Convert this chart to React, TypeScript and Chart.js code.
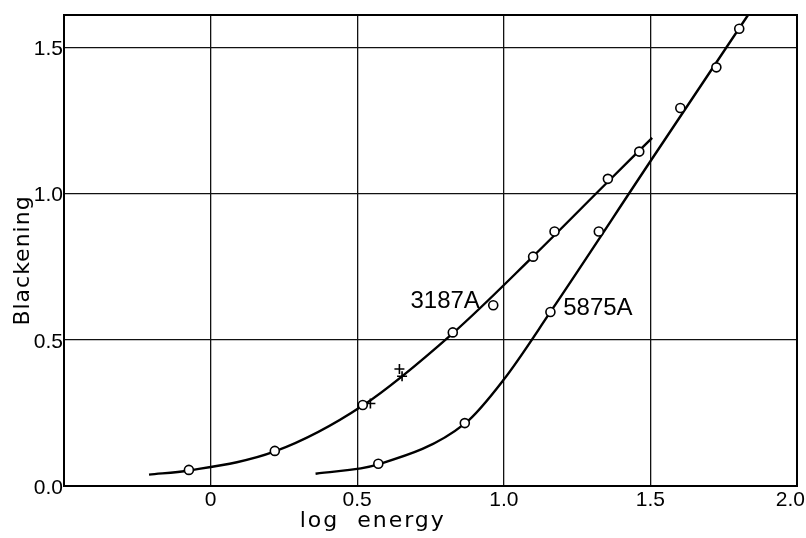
import { useEffect, useRef } from 'react';
import { Chart, registerables } from 'chart.js';

Chart.register(...registerables);

// Axis values
const xGridValues = [-0.5, 0, 0.5, 1.0, 1.5, 2.0];
const xTickValues = [0, 0.5, 1.0, 1.5, 2.0];
const xTickLabels = ['0', '0.5', '1.0', '1.5', '2.0'];
const yGridValues = [0, 0.5, 1.0, 1.5];
const yTickLabels = ['0.0', '0.5', '1.0', '1.5'];

// 3187A fitted curve
const curve3187X = [-0.21, -0.074, 0.219, 0.519, 0.826, 1.1, 1.355, 1.506];
const curve3187Y = [0.039, 0.053, 0.118, 0.275, 0.522, 0.785, 1.04, 1.19];
// 3187A measured points (circles)
const points3187X = [-0.074, 0.219, 0.519, 0.826, 0.964, 1.1, 1.173, 1.355, 1.462];
const points3187Y = [0.055, 0.12, 0.277, 0.525, 0.618, 0.784, 0.87, 1.05, 1.143];
// 3187A crosses
const cross3187X = [0.545, 0.644, 0.653];
const cross3187Y = [0.282, 0.4, 0.375];

// 5875A fitted curve
const curve5875X = [0.358, 0.572, 0.867, 1.0, 1.159, 1.5, 1.833];
const curve5875Y = [0.042, 0.074, 0.213, 0.364, 0.595, 1.11, 1.61];
// 5875A measured points
const points5875X = [0.572, 0.867, 1.159, 1.324, 1.602, 1.725, 1.803];
const points5875Y = [0.076, 0.215, 0.595, 0.87, 1.292, 1.431, 1.563];

// Curve labels
const labelTexts = ['3187A', '5875A'];
const labelX = [0.8, 1.321];
const labelY = [0.631, 0.606];

const toPts = (xs: number[], ys: number[]) => xs.map((x, i) => ({ x, y: ys[i] }));

const decorPlugin = {
  id: 'decor',
  afterDraw(chart: any) {
    const { ctx, chartArea, scales } = chart;
    const xs = scales.x;
    const ys = scales.y;
    ctx.save();
    // frame
    ctx.strokeStyle = '#000';
    ctx.lineWidth = 2;
    ctx.strokeRect(chartArea.left, chartArea.top, chartArea.right - chartArea.left, chartArea.bottom - chartArea.top);

    ctx.fillStyle = '#000';
    // y tick labels
    ctx.font = '21px "Liberation Sans"';
    ctx.textAlign = 'right';
    ctx.textBaseline = 'middle';
    yGridValues.forEach((v, i) => {
      ctx.fillText(yTickLabels[i], chartArea.left - 1, ys.getPixelForValue(v) + 2);
    });
    // x tick labels
    ctx.textAlign = 'center';
    xTickValues.forEach((v, i) => {
      const w = ctx.measureText(xTickLabels[i]).width;
      const px = Math.min(xs.getPixelForValue(v), chart.width - w / 2 - 1);
      ctx.fillText(xTickLabels[i], px, chartArea.bottom + 14);
    });

    // axis titles
    ctx.font = '22px "DejaVu Sans"';
    (ctx as any).letterSpacing = '1px';
    ctx.save();
    ctx.translate(29, (chartArea.top + chartArea.bottom) / 2 + 10);
    ctx.rotate(-Math.PI / 2);
    ctx.textAlign = 'center';
    ctx.textBaseline = 'alphabetic';
    ctx.fillText('Blackening', 0, 0);
    ctx.restore();

    (ctx as any).letterSpacing = '2px';
    ctx.textAlign = 'center';
    ctx.textBaseline = 'alphabetic';
    ctx.fillText('log  energy', xs.getPixelForValue(0.553), chartArea.bottom + 41);
    (ctx as any).letterSpacing = '0px';

    // curve labels
    ctx.font = '24px "Liberation Sans"';
    ctx.textAlign = 'center';
    ctx.textBaseline = 'middle';
    labelTexts.forEach((t, i) => {
      ctx.fillText(t, xs.getPixelForValue(labelX[i]), ys.getPixelForValue(labelY[i]));
    });
    ctx.restore();
  },
};

export default function App() {
  const ref = useRef<HTMLCanvasElement>(null);
  useEffect(() => {
    const circleStyle = {
      showLine: false,
      pointStyle: 'circle',
      pointRadius: 4.5,
      pointBackgroundColor: '#fff',
      pointBorderColor: '#000',
      pointBorderWidth: 1.6,
      order: 0,
    };
    const lineStyle = {
      showLine: true,
      pointRadius: 0,
      borderColor: '#000',
      borderWidth: 2.4,
      cubicInterpolationMode: 'monotone',
      fill: false,
      order: 1,
    };
    const chart = new Chart(ref.current as HTMLCanvasElement, {
      type: 'scatter',
      data: {
        datasets: [
          { label: '3187A points', data: toPts(points3187X, points3187Y), ...circleStyle } as any,
          { label: '5875A points', data: toPts(points5875X, points5875Y), ...circleStyle } as any,
          {
            label: '3187A crosses',
            data: toPts(cross3187X, cross3187Y),
            showLine: false,
            pointStyle: 'cross',
            pointRadius: 5,
            pointBorderColor: '#000',
            pointBorderWidth: 1.6,
            order: 0,
          } as any,
          { label: '3187A curve', data: toPts(curve3187X, curve3187Y), ...lineStyle } as any,
          { label: '5875A curve', data: toPts(curve5875X, curve5875Y), ...lineStyle } as any,
        ],
      },
      options: {
        responsive: false,
        animation: false,
        layout: { padding: { left: 0, right: 9, top: 15, bottom: 0 } },
        plugins: { legend: { display: false }, tooltip: { enabled: false } },
        scales: {
          x: {
            type: 'linear',
            min: -0.5,
            max: 2.0,
            afterBuildTicks: (s: any) => {
              s.ticks = xGridValues.map((v) => ({ value: v }));
            },
            afterFit: (s: any) => {
              s.height = 52;
              s.paddingLeft = 0;
              s.paddingRight = 0;
            },
            grid: { color: '#111', lineWidth: 1.3, drawTicks: false },
            border: { color: '#000', width: 2 },
            ticks: { display: false },
          },
          y: {
            type: 'linear',
            min: 0,
            max: 1.61,
            afterBuildTicks: (s: any) => {
              s.ticks = yGridValues.map((v) => ({ value: v }));
            },
            afterFit: (s: any) => {
              s.width = 64;
              s.paddingTop = 0;
              s.paddingBottom = 0;
            },
            grid: { color: '#111', lineWidth: 1.3, drawTicks: false },
            border: { color: '#000', width: 2 },
            ticks: { display: false },
          },
        },
      } as any,
      plugins: [decorPlugin],
    });
    return () => chart.destroy();
  }, []);
  return (
    <div style={{ position: 'absolute', left: 0, top: 0, width: 806, height: 538, background: '#fff' }}>
      <canvas ref={ref} width={806} height={538} style={{ display: 'block' }} />
    </div>
  );
}
